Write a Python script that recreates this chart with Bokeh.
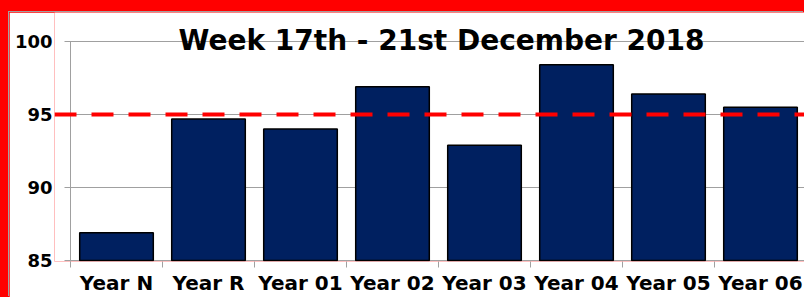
from bokeh.plotting import figure
from bokeh.models import (Range1d, FixedTicker, Label, Span, GlobalInlineStyleSheet)
from bokeh.embed import file_html
from bokeh.resources import INLINE

# ---- data ----
categories = ["Year N", "Year R", "Year 01", "Year 02", "Year 03", "Year 04", "Year 05", "Year 06"]
values = [86.9, 94.7, 94.0, 96.9, 92.9, 98.4, 96.4, 95.5]
target = 95
y_ticks = [85, 90, 95, 100]
title_text = "Week 17th - 21st December 2018"

centers = [i + 0.5 for i in range(len(categories))]
boundaries = list(range(len(categories) + 1))

FONT = "DejaVu Sans"
GRAY = "#a0a0a0"
PX_X = 92.0     # px per category
PX_Y = 14.6     # px per unit

css = GlobalInlineStyleSheet(css="html,body{margin:0;padding:0;overflow:hidden;background:#ff0000;}"
                                 "body{padding:12px 0 0 9px;box-sizing:border-box;}")

p = figure(width=795, height=285, output_backend="svg", toolbar_location=None,
           x_range=Range1d(-16 / PX_X, (804 - 70) / PX_X),
           y_range=Range1d(85 - 1 / PX_Y, 100 + 29 / PX_Y),
           min_border_left=45, min_border_right=0, min_border_top=0, min_border_bottom=36,
           stylesheets=[css], styles={"box-shadow": "-1px -1px 0 0 #a0a0a0"})
p.outline_line_color = None
p.background_fill_color = "white"
p.border_fill_color = "white"
p.xgrid.visible = False
p.ygrid.visible = False

# gridlines (with small tick stub left of the axis)
p.segment(x0=[-6 / PX_X] * len(y_ticks), x1=[9] * len(y_ticks), y0=y_ticks, y1=y_ticks,
          line_color=GRAY, line_width=1)
# value axis line
p.segment(x0=[0], x1=[0], y0=[80], y1=[100], line_color=GRAY, line_width=1)

p.vbar(x=centers, top=values, bottom=85, width=0.8,
       fill_color="#002060", line_color="black", line_width=1.5)

p.add_layout(Span(location=target, dimension="width", line_color="#ff0000",
                  line_width=4, line_dash="22 15"))

p.add_layout(Label(x=(441 - 70) / PX_X, y=100 + 1 / PX_Y, text=title_text,
                   text_align="center", text_baseline="alphabetic",
                   text_font=FONT, text_font_size="28px", text_font_style="bold",
                   text_color="black"))

# y axis
ya = p.yaxis[0]
ya.ticker = FixedTicker(ticks=y_ticks)
ya.axis_line_color = None
ya.major_tick_line_color = None
ya.minor_tick_line_color = None
ya.major_tick_out = 0
ya.major_tick_in = 0
ya.major_label_standoff = 2
ya.major_label_text_font = FONT
ya.major_label_text_font_size = "18px"
ya.major_label_text_font_style = "bold"
ya.major_label_text_color = "black"

# x axis
xa = p.xaxis[0]
xa.ticker = FixedTicker(ticks=centers, minor_ticks=boundaries)
xa.major_label_overrides = {c: name for c, name in zip(centers, categories)}
xa.axis_line_color = None
xa.major_tick_line_color = None
xa.major_tick_out = 0
xa.major_tick_in = 0
xa.minor_tick_line_color = GRAY
xa.minor_tick_out = 6
xa.minor_tick_in = 0
xa.major_label_standoff = 3
xa.major_label_text_font = FONT
xa.major_label_text_font_size = "20px"
xa.major_label_text_font_style = "bold"
xa.major_label_text_color = "black"

open("out.html", "w").write(file_html(p, INLINE))
